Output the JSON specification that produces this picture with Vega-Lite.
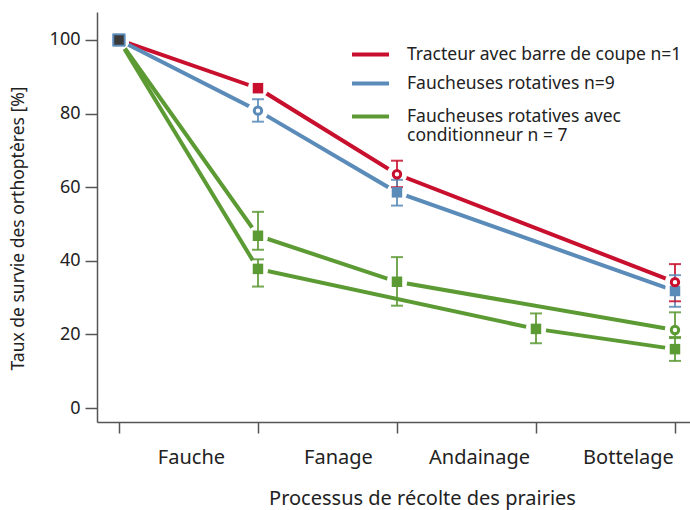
{
  "$schema": "https://vega.github.io/schema/vega-lite/v6.json",
  "width": 593,
  "height": 410,
  "autosize": {"type": "none"},
  "padding": {"left": 97, "top": 12, "right": 0, "bottom": 88},
  "background": "white",
  "config": {"view": {"stroke": null}, "font": "Noto Sans"},
  "data": {
    "values": [
      {"serie": "Tracteur avec barre de coupe n=1", "ligne": "T", "etape": 0, "valeur": 100, "lo": null, "hi": null, "marqueur": "depart"},
      {"serie": "Tracteur avec barre de coupe n=1", "ligne": "T", "etape": 1, "valeur": 86.9, "lo": null, "hi": null, "marqueur": "carre"},
      {"serie": "Tracteur avec barre de coupe n=1", "ligne": "T", "etape": 2, "valeur": 63.5, "lo": 60, "hi": 67.2, "marqueur": "cercle"},
      {"serie": "Tracteur avec barre de coupe n=1", "ligne": "T", "etape": 4, "valeur": 34.2, "lo": 29, "hi": 39.1, "marqueur": "cercle"},
      {"serie": "Faucheuses rotatives n=9", "ligne": "F", "etape": 0, "valeur": 100, "lo": null, "hi": null, "marqueur": "depart"},
      {"serie": "Faucheuses rotatives n=9", "ligne": "F", "etape": 1, "valeur": 80.8, "lo": 77.8, "hi": 83.9, "marqueur": "cercle"},
      {"serie": "Faucheuses rotatives n=9", "ligne": "F", "etape": 2, "valeur": 58.6, "lo": 55, "hi": 62, "marqueur": "carre"},
      {"serie": "Faucheuses rotatives n=9", "ligne": "F", "etape": 4, "valeur": 31.8, "lo": 27.5, "hi": 36.1, "marqueur": "carre"},
      {"serie": "Faucheuses rotatives avec conditionneur n = 7", "ligne": "C1", "etape": 0, "valeur": 100, "lo": null, "hi": null, "marqueur": "depart"},
      {"serie": "Faucheuses rotatives avec conditionneur n = 7", "ligne": "C1", "etape": 1, "valeur": 46.8, "lo": 43, "hi": 53.3, "marqueur": "carre"},
      {"serie": "Faucheuses rotatives avec conditionneur n = 7", "ligne": "C1", "etape": 2, "valeur": 34.3, "lo": 27.8, "hi": 41, "marqueur": "carre"},
      {"serie": "Faucheuses rotatives avec conditionneur n = 7", "ligne": "C1", "etape": 4, "valeur": 21.2, "lo": 19.3, "hi": 26, "marqueur": "cercle"},
      {"serie": "Faucheuses rotatives avec conditionneur n = 7", "ligne": "C2", "etape": 0, "valeur": 100, "lo": null, "hi": null, "marqueur": "depart"},
      {"serie": "Faucheuses rotatives avec conditionneur n = 7", "ligne": "C2", "etape": 1, "valeur": 37.8, "lo": 33, "hi": 40.4, "marqueur": "carre"},
      {"serie": "Faucheuses rotatives avec conditionneur n = 7", "ligne": "C2", "etape": 3, "valeur": 21.5, "lo": 17.6, "hi": 25.7, "marqueur": "carre"},
      {"serie": "Faucheuses rotatives avec conditionneur n = 7", "ligne": "C2", "etape": 4, "valeur": 16, "lo": 12.8, "hi": 19, "marqueur": "carre"}
    ]
  },
  "encoding": {
    "x": {
      "field": "etape",
      "type": "quantitative",
      "scale": {"domain": [-0.158, 4.108], "nice": false, "zero": false},
      "axis": {
        "values": [0, 1, 2, 3, 4],
        "labelExpr": "['Fauche','Fanage','Andainage','Bottelage',''][datum.value]",
        "labelOffset": {"condition": [{"test": "datum.value == 0", "value": 72}, {"test": "datum.value == 1", "value": 80}, {"test": "datum.value == 2", "value": 82}], "value": 92},
        "labelFlush": false,
        "labelOverlap": false,
        "grid": false,
        "tickSize": 11,
        "tickColor": "#555555",
        "tickWidth": 1.5,
        "domainColor": "#555555",
        "domainWidth": 1.5,
        "labelPadding": 14,
        "labelFontSize": 20,
        "labelColor": "#222222",
        "title": "Processus de récolte des prairies",
        "titleFontSize": 20,
        "titleFontWeight": "normal",
        "titleColor": "#222222",
        "titleX": 325,
        "titleY": 82,
        "titleBaseline": "alphabetic"
      }
    }
  },
  "layer": [
    {
      "transform": [{"filter": "datum.ligne == 'T' || datum.ligne == 'F'"}],
      "mark": {"type": "line", "strokeWidth": 4},
      "encoding": {
        "y": {
          "field": "valeur",
          "type": "quantitative",
          "scale": {"domain": [-3.8, 107.6], "nice": false, "zero": false},
          "axis": {
            "values": [0, 20, 40, 60, 80, 100],
            "grid": false,
            "tickSize": 12,
            "tickColor": "#555555",
            "tickWidth": 1.5,
            "domainColor": "#555555",
            "domainWidth": 1.5,
            "labelPadding": 5,
            "labelFontSize": 18,
            "labelColor": "#222222",
            "title": "Taux de survie des orthoptères [%]",
            "titleFontSize": 17.5,
            "titleFontWeight": "normal",
            "titleColor": "#222222",
            "titleAngle": -90,
            "titleBaseline": "middle",
            "titleX": -79,
            "titleY": 216
          }
        },
        "color": {
          "field": "serie",
          "type": "nominal",
          "scale": {
            "domain": ["Tracteur avec barre de coupe n=1", "Faucheuses rotatives n=9", "Faucheuses rotatives avec conditionneur n = 7"],
            "range": ["#c8102e", "#5b8bb9", "#5c9a34"]
          },
          "legend": {
            "orient": "none",
            "legendX": 253,
            "legendY": 22,
            "values": ["Tracteur avec barre de coupe n=1", "Faucheuses rotatives n=9"],
            "title": null,
            "symbolType": "stroke",
            "symbolStrokeWidth": 4,
            "symbolSize": 1369,
            "labelFontSize": 17.5,
            "labelColor": "#222222",
            "labelLimit": 400,
            "labelOffset": 16,
            "rowPadding": -1,
            "padding": 0
          }
        },
        "detail": {"field": "ligne"},
        "order": {"field": "etape"}
      }
    },
    {
      "transform": [{"filter": "datum.ligne == 'C1' || datum.ligne == 'C2'"}],
      "mark": {"type": "line", "strokeWidth": 4},
      "encoding": {
        "y": {"field": "valeur", "type": "quantitative"},
        "stroke": {
          "field": "serie",
          "type": "nominal",
          "scale": {"domain": ["Faucheuses rotatives avec conditionneur n = 7"], "range": ["#5c9a34"]},
          "legend": {
            "orient": "none",
            "legendX": 253,
            "legendY": 84,
            "title": null,
            "symbolType": "stroke",
            "symbolStrokeWidth": 4,
            "symbolSize": 1369,
            "labelFontSize": 17.5,
            "labelColor": "#222222",
            "labelLimit": 400,
            "labelOffset": 16,
            "padding": 0,
            "labelExpr": "['Faucheuses rotatives avec', 'conditionneur n = 7']"
          }
        },
        "detail": {"field": "ligne"},
        "order": {"field": "etape"}
      }
    },
    {
      "mark": {"type": "point", "shape": "circle", "filled": true, "color": "white", "opacity": 1, "size": 420},
      "encoding": {"y": {"field": "valeur", "type": "quantitative"}}
    },
    {
      "mark": {"type": "rule", "strokeWidth": 2, "opacity": 0.85},
      "encoding": {
        "y": {"field": "lo", "type": "quantitative"},
        "y2": {"field": "hi"},
        "color": {"field": "serie", "type": "nominal", "legend": null}
      }
    },
    {
      "mark": {"type": "tick", "orient": "horizontal", "size": 12, "thickness": 2, "opacity": 0.85},
      "encoding": {
        "y": {"field": "lo", "type": "quantitative"},
        "color": {"field": "serie", "type": "nominal", "legend": null}
      }
    },
    {
      "mark": {"type": "tick", "orient": "horizontal", "size": 12, "thickness": 2, "opacity": 0.85},
      "encoding": {
        "y": {"field": "hi", "type": "quantitative"},
        "color": {"field": "serie", "type": "nominal", "legend": null}
      }
    },
    {
      "transform": [{"filter": "datum.marqueur == 'carre'"}],
      "mark": {"type": "square", "filled": true, "opacity": 1, "size": 110},
      "encoding": {
        "y": {"field": "valeur", "type": "quantitative"},
        "color": {"field": "serie", "type": "nominal", "legend": null}
      }
    },
    {
      "transform": [{"filter": "datum.marqueur == 'cercle'"}],
      "mark": {"type": "point", "shape": "circle", "filled": false, "fill": "white", "strokeWidth": 3, "opacity": 1, "size": 55},
      "encoding": {
        "y": {"field": "valeur", "type": "quantitative"},
        "color": {"field": "serie", "type": "nominal", "legend": null}
      }
    },
    {
      "transform": [{"filter": "datum.marqueur == 'depart'"}],
      "mark": {"type": "square", "filled": true, "fill": "#3a3a3a", "stroke": "#5b8bb9", "strokeWidth": 1.5, "opacity": 1, "size": 121},
      "encoding": {"y": {"field": "valeur", "type": "quantitative"}}
    }
  ]
}
